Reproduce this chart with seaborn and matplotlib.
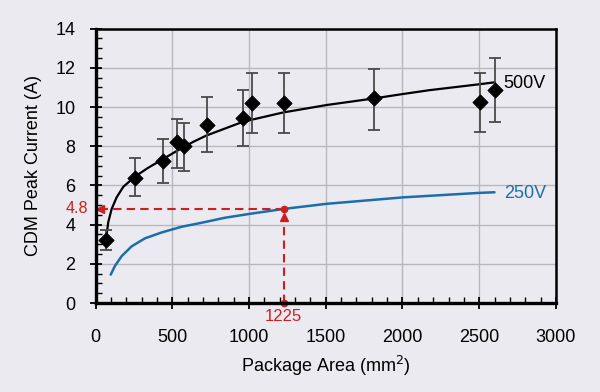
import numpy as np
import pandas as pd
import seaborn as sns
import matplotlib
matplotlib.use("Agg")
import matplotlib.pyplot as plt
from matplotlib.ticker import MultipleLocator

# ---- data ----
pt_x = [67, 256, 438, 529, 575, 725, 959, 1021, 1225, 1812, 2502, 2606]
pt_y = [3.2, 6.4, 7.25, 8.2, 8.0, 9.1, 9.45, 10.2, 10.2, 10.45, 10.25, 10.85]
pt_lo = [2.7, 5.45, 6.1, 6.9, 6.75, 7.7, 8.0, 8.65, 8.65, 8.85, 8.75, 9.25]
pt_hi = [3.7, 7.4, 8.35, 9.4, 9.2, 10.5, 10.85, 11.75, 11.75, 11.95, 11.75, 12.5]

fit500_x = [65, 72, 82, 104, 137, 180, 256, 342, 440, 527, 635, 723, 961, 1221, 1504,
            1807, 2000, 2176, 2500, 2600]
fit500_y = [3.3, 3.55, 4.13, 4.8, 5.4, 5.93, 6.45, 6.9, 7.35, 7.75, 8.22, 8.55, 9.25,
            9.72, 10.1, 10.43, 10.66, 10.86, 11.16, 11.26]

fit250_x = [98, 126, 169, 234, 321, 430, 560, 712, 842, 1005, 1225, 1504, 2003, 2502, 2600]
fit250_y = [1.45, 1.9, 2.39, 2.89, 3.3, 3.6, 3.89, 4.13, 4.35, 4.55, 4.8, 5.06, 5.39, 5.62, 5.65]

mark_x = 1225
mark_y = 4.8

x_ticks = [0, 500, 1000, 1500, 2000, 2500, 3000]
y_ticks = [0, 2, 4, 6, 8, 10, 12, 14]

BG = "#ECEAF1"
BLUE = "#1C6EAA"
RED = "#CC2020"

sns.set_theme(style="whitegrid")
plt.rcParams["font.family"] = ["Liberation Sans", "DejaVu Sans"]

fig = plt.figure(figsize=(6.0, 3.92), dpi=100, facecolor=BG)
ax = fig.add_axes([0.1595, 0.227, 0.767, 0.700])
ax.set_facecolor(BG)

df500 = pd.DataFrame({"x": fit500_x, "y": fit500_y})
df250 = pd.DataFrame({"x": fit250_x, "y": fit250_y})
dfp = pd.DataFrame({"x": pt_x, "y": pt_y})

sns.lineplot(data=df500, x="x", y="y", ax=ax, color="black", lw=1.6, sort=True, zorder=3)
sns.lineplot(data=df250, x="x", y="y", ax=ax, color=BLUE, lw=1.8, sort=True, zorder=3)

yerr = [np.array(pt_y) - np.array(pt_lo), np.array(pt_hi) - np.array(pt_y)]
ax.errorbar(pt_x, pt_y, yerr=yerr, fmt="none", ecolor="#4a4a4a", elinewidth=1.3,
            capsize=4, capthick=1.3, zorder=4)
sns.scatterplot(data=dfp, x="x", y="y", ax=ax, marker="D", color="black", s=60,
                edgecolor="black", zorder=5)

# red dashed guide lines
ax.plot([mark_x, 30], [mark_y, mark_y], color=RED, lw=1.5, ls=(0, (4, 2.5)), zorder=6, clip_on=False)
ax.plot([mark_x, mark_x], [0, mark_y - 0.3], color=RED, lw=1.5, ls=(0, (4, 2.5)), zorder=6, clip_on=False)
ax.plot([26], [mark_y], marker="<", color=RED, ms=6, zorder=7, clip_on=False)
ax.plot([mark_x], [mark_y - 0.4], marker="^", color=RED, ms=6, zorder=7, clip_on=False)
ax.plot([mark_x, mark_x], [mark_y, 0], ls="none", marker="o", color=RED, ms=4.5, zorder=8, clip_on=False)

ax.text(-48, mark_y, "4.8", color=RED, fontsize=11.5, ha="right", va="center", clip_on=False)
ax.text(mark_x, -0.3, "1225", color=RED, fontsize=12, ha="center", va="top", clip_on=False)

ax.text(2660, 11.2, "500V", color="black", fontsize=13, ha="left", va="center")
ax.text(2660, 5.6, "250V", color=BLUE, fontsize=13, ha="left", va="center")

ax.set_xlim(0, 3000)
ax.set_ylim(0, 14)
ax.set_xticks(x_ticks)
ax.set_yticks(y_ticks)
ax.xaxis.set_minor_locator(MultipleLocator(100))
ax.yaxis.set_minor_locator(MultipleLocator(0.5))
ax.tick_params(axis="both", which="major", direction="inout", length=9, width=1.3,
               color="black", labelsize=13, labelcolor="black", pad=10)
ax.tick_params(axis="both", which="minor", direction="in", length=4, width=1.0, color="black")
ax.tick_params(axis="x", which="both", bottom=True, top=False)
ax.tick_params(axis="y", which="both", left=True, right=False)
ax.tick_params(axis="x", which="major", pad=14)

ax.grid(True, which="major", color="#b8b8bc", lw=1.0)
ax.grid(False, which="minor")

for side in ["left", "bottom"]:
    ax.spines[side].set_color("black")
    ax.spines[side].set_linewidth(2.4)
for side in ["top", "right"]:
    ax.spines[side].set_color("black")
    ax.spines[side].set_linewidth(1.8)
for s in ax.spines.values():
    s.set_zorder(10)

ax.set_xlabel("Package Area (mm$^2$)", fontsize=13, color="black", labelpad=6)
ax.set_ylabel("CDM Peak Current (A)", fontsize=13, color="black", labelpad=10)

fig.savefig("out.png", dpi=100, facecolor=BG)
